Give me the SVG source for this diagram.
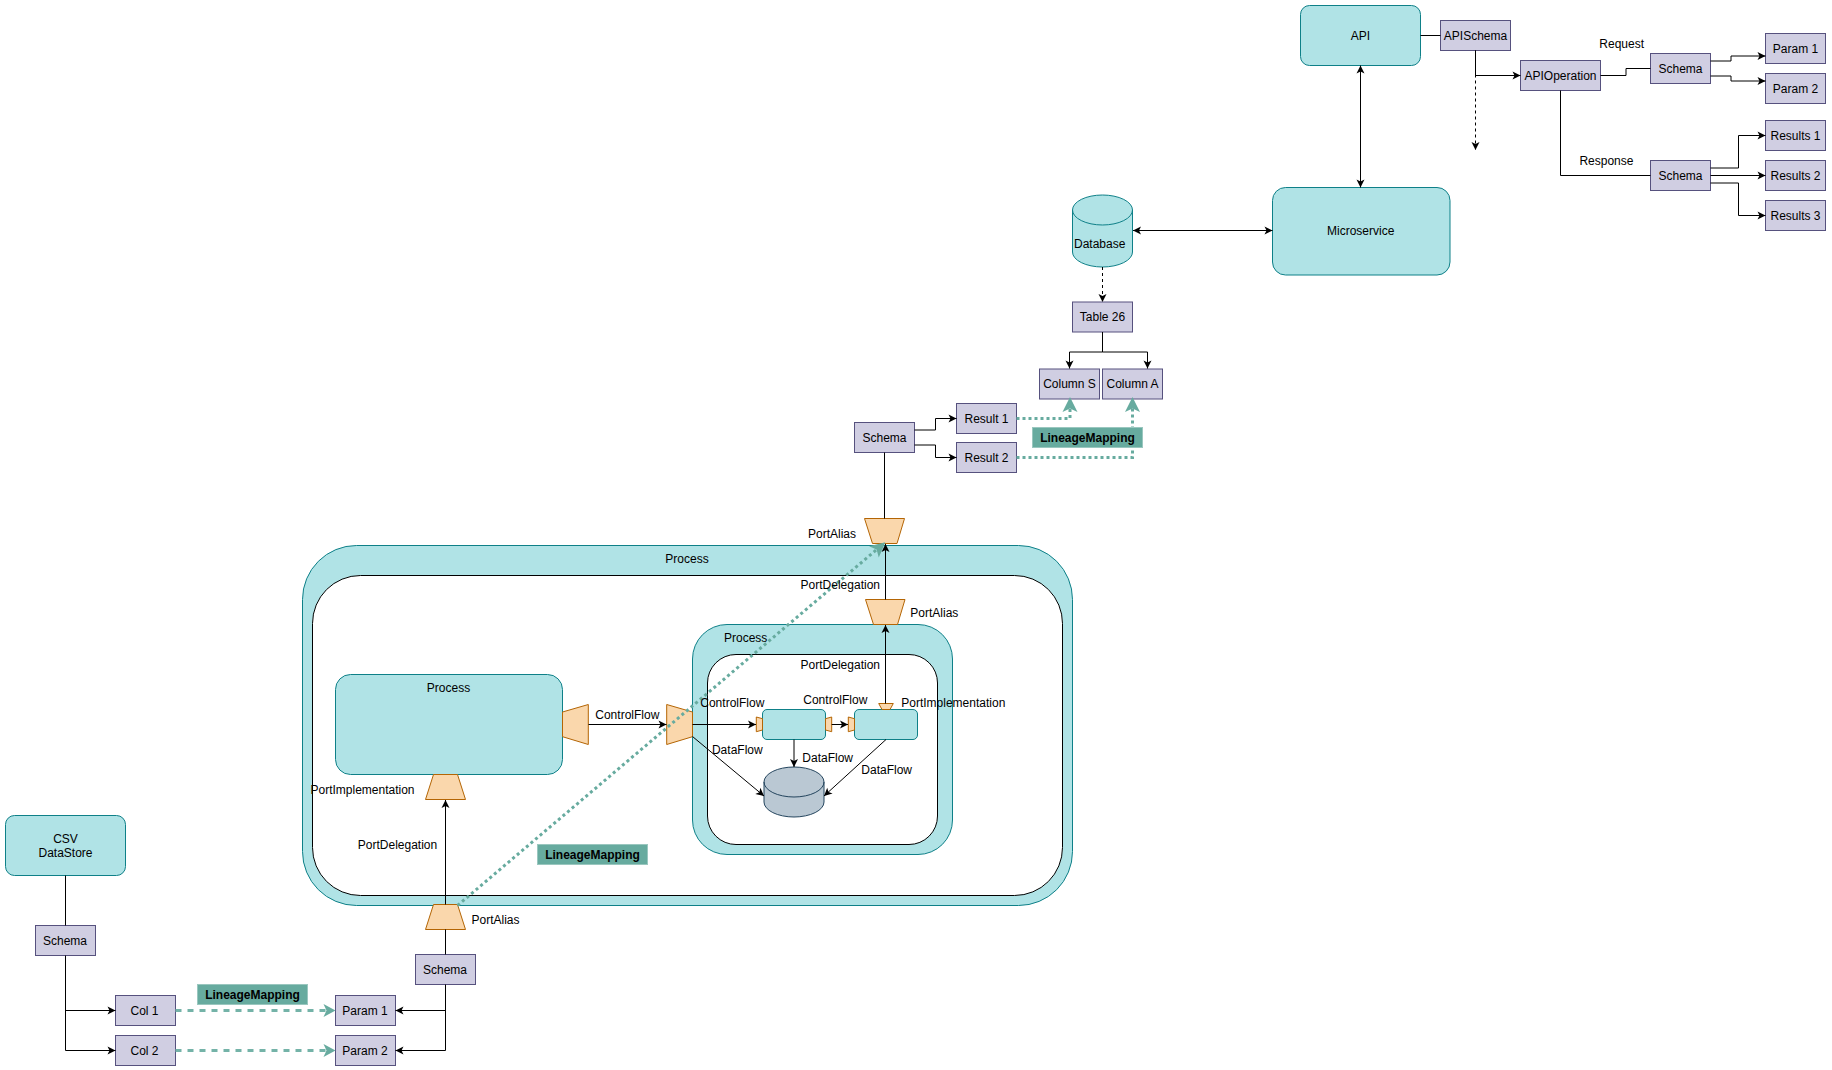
<svg xmlns="http://www.w3.org/2000/svg" width="1832" height="1070" viewBox="0 0 1832 1070">
<style>
text{font-family:"Liberation Sans",Arial,sans-serif;font-size:12px;fill:#000;text-anchor:middle}
.bold{font-weight:bold}
.teal{fill:#b0e3e6;stroke:#0e8088;stroke-width:1}
.box{fill:#d0cee2;stroke:#56517e;stroke-width:1}
.port{fill:#fad7ac;stroke:#b46504;stroke-width:1}
.inner{fill:#fff;stroke:#000;stroke-width:1}
.tag{fill:#67ab9f;stroke:#9ac7bf;stroke-width:1}
.cyl{fill:#bac8d3;stroke:#23445d;stroke-width:1}
.e{fill:none;stroke:#000;stroke-width:1}
.a{marker-end:url(#arrow)}
.b{marker-start:url(#arrowS);marker-end:url(#arrow)}
.d{stroke-dasharray:3 3}
.dot{fill:none;stroke:#67ab9f;stroke-width:3;stroke-dasharray:3 3;marker-end:url(#greenL)}
.dash{fill:none;stroke:#74b3a8;stroke-width:3;stroke-dasharray:6 6;marker-end:url(#green)}
</style>
<defs>
<marker id="arrow" markerUnits="userSpaceOnUse" markerWidth="10" markerHeight="10" refX="8" refY="5" orient="auto" overflow="visible"><path d="M0,1 L8,5 L0,9 L2,5z" fill="#000"/></marker>
<marker id="arrowS" markerUnits="userSpaceOnUse" markerWidth="10" markerHeight="10" refX="0" refY="5" orient="auto" overflow="visible"><path d="M8,1 L0,5 L8,9 L6,5z" fill="#000"/></marker>
<marker id="green" markerUnits="userSpaceOnUse" markerWidth="14" markerHeight="14" refX="6" refY="7" orient="auto" overflow="visible"><path d="M0,0.5 L12,7 L0,13.5 L3,7z" fill="#67ab9f"/></marker>
<marker id="greenL" markerUnits="userSpaceOnUse" markerWidth="16" markerHeight="16" refX="6" refY="8" orient="auto" overflow="visible"><path d="M0,0.5 L15,8 L0,15.5 L3.5,8z" fill="#67ab9f"/></marker>
</defs>

<g id="nodes-top">
<g id="api"><rect class="teal" x="1300.5" y="5.5" width="120" height="60" rx="9"/><text x="1360.5" y="39.5">API</text></g>
<g id="apischema"><rect class="box" x="1440.5" y="20.5" width="70" height="30"/><text x="1475.5" y="39.5">APISchema</text></g>
<g id="apioperation"><rect class="box" x="1520.5" y="60.5" width="80" height="30"/><text x="1560.5" y="79.5">APIOperation</text></g>
<g id="schema-req"><rect class="box" x="1650.5" y="53.5" width="60" height="30"/><text x="1680.5" y="72.5">Schema</text></g>
<g id="schema-res"><rect class="box" x="1650.5" y="160.5" width="60" height="30"/><text x="1680.5" y="180">Schema</text></g>
<g id="api-param1"><rect class="box" x="1765.5" y="33.5" width="60" height="30"/><text x="1795.5" y="52.5">Param 1</text></g>
<g id="api-param2"><rect class="box" x="1765.5" y="73.5" width="60" height="30"/><text x="1795.5" y="92.5">Param 2</text></g>
<g id="results1"><rect class="box" x="1765.5" y="120.5" width="60" height="30"/><text x="1795.5" y="139.5">Results 1</text></g>
<g id="results2"><rect class="box" x="1765.5" y="160.5" width="60" height="30"/><text x="1795.5" y="179.5">Results 2</text></g>
<g id="results3"><rect class="box" x="1765.5" y="200.5" width="60" height="30"/><text x="1795.5" y="219.5">Results 3</text></g>
<g id="microservice"><rect class="teal" x="1272.5" y="187.5" width="177.5" height="87.5" rx="13"/><text x="1360.7" y="235">Microservice</text></g>
<g id="database"><path class="teal" d="M1072.5,210 A30,15 0 0 1 1132.5,210 V252 A30,15 0 0 1 1072.5,252z"/><path class="teal" style="fill:none" d="M1072.5,210 A30,15 0 0 0 1132.5,210"/><text x="1099.7" y="248">Database</text></g>
</g>

<g id="nodes" transform="translate(0,1)">
<g id="table26"><rect class="box" x="1072.5" y="301" width="60" height="30"/><text x="1102.5" y="320">Table 26</text></g>
<g id="columnS"><rect class="box" x="1039.5" y="368" width="60" height="30"/><text x="1069.5" y="387">Column S</text></g>
<g id="columnA"><rect class="box" x="1102.5" y="368" width="60" height="30"/><text x="1132.5" y="387">Column A</text></g>
<g id="schema-mid"><rect class="box" x="854.5" y="421.5" width="60" height="30"/><text x="884.5" y="440.5">Schema</text></g>
<g id="result1"><rect class="box" x="956.5" y="402.5" width="60" height="30"/><text x="986.5" y="421.5">Result 1</text></g>
<g id="result2"><rect class="box" x="956.5" y="441.5" width="60" height="30"/><text x="986.5" y="460.5">Result 2</text></g>

<g id="process-outer"><rect class="teal" x="302.5" y="544.5" width="770" height="360" rx="54"/><rect class="inner" x="312.5" y="574.5" width="750" height="320" rx="48"/><text x="687" y="562">Process</text></g>
<g id="process-left"><rect class="teal" x="335.5" y="673.5" width="227" height="100" rx="15"/><text x="448.5" y="690.5">Process</text></g>
<g id="process-right"><rect class="teal" x="692.5" y="623.5" width="260" height="230" rx="34.5"/><rect class="inner" x="707.5" y="653.5" width="230" height="190" rx="28.5"/><text x="745.7" y="641">Process</text></g>
<g id="inner-a"><rect class="teal" x="762.5" y="708.5" width="63" height="30" rx="4.5"/></g>
<g id="inner-b"><rect class="teal" x="854.5" y="708.5" width="63" height="30" rx="4.5"/></g>
<g id="store"><path class="cyl" d="M764,781 A30,15 0 0 1 824,781 V801 A30,15 0 0 1 764,801z"/><path class="cyl" style="fill:none" d="M764,781 A30,15 0 0 0 824,781"/></g>

<g id="port-top"><path class="port" d="M864.5,517.5 H904.5 L897,542.5 H872.5z"/></g>
<g id="port-upper"><path class="port" d="M865.5,598.5 H905 L897.5,623.5 H873.5z"/></g>
<g id="port-impl-b"><path class="port" d="M878.7,702.5 H893.3 L890,708.5 H882z"/></g>
<g id="port-a-in"><path class="port" d="M756.3,716 L762.5,717.7 V729 L756.3,730.7z"/></g>
<g id="port-a-out"><path class="port" d="M825.5,717.7 L831.7,716 V730.7 L825.5,729z"/></g>
<g id="port-b-in"><path class="port" d="M848.3,716 L854.5,717.7 V729 L848.3,730.7z"/></g>
<g id="port-left-out"><path class="port" d="M562.5,711 L588.3,703.5 V743.5 L562.5,735.7z"/></g>
<g id="port-right-in"><path class="port" d="M666.7,703.5 L692.5,711 V735.7 L666.7,743.5z"/></g>
<g id="port-impl"><path class="port" d="M433.5,773.5 H457.5 L465.5,798.5 H425.5z"/></g>
<g id="port-bottom"><path class="port" d="M433.5,903.5 H457.5 L465.5,928.5 H425.5z"/></g>

<g id="csv"><rect class="teal" x="5.5" y="814.5" width="120" height="60" rx="9"/><text x="65.5" y="842">CSV</text><text x="65.5" y="856">DataStore</text></g>
<g id="schema-csv"><rect class="box" x="35.5" y="924.5" width="60" height="30"/><text x="65" y="943.5">Schema</text></g>
<g id="col1"><rect class="box" x="115.5" y="994.5" width="60" height="30"/><text x="144.5" y="1013.5">Col 1</text></g>
<g id="col2"><rect class="box" x="115.5" y="1034.5" width="60" height="30"/><text x="144.5" y="1053.5">Col 2</text></g>
<g id="param1"><rect class="box" x="335.5" y="994.5" width="60" height="30"/><text x="365" y="1013.5">Param 1</text></g>
<g id="param2"><rect class="box" x="335.5" y="1034.5" width="60" height="30"/><text x="365" y="1053.5">Param 2</text></g>
<g id="schema-proc"><rect class="box" x="415.5" y="953.5" width="60" height="30"/><text x="445" y="972.5">Schema</text></g>
</g>

<g id="connectors">
<g id="connectors-top">
<path class="e" d="M1420.5,35.5 H1440.5"/>
<path class="e a" d="M1475.5,50.5 V75.5 H1520.5"/>
<path class="e a d" d="M1475.5,50.5 V150"/>
<path class="e" d="M1600.5,75.5 H1626 V68.5 H1650.5"/>
<path class="e a" d="M1710.5,61 H1731 V56 H1765.5"/>
<path class="e a" d="M1710.5,76 H1731 V81 H1765.5"/>
<path class="e" d="M1560.5,90.5 V175.5 H1650.5"/>
<path class="e a" d="M1710.5,168 H1738.5 V135.5 H1765.5"/>
<path class="e a" d="M1710.5,175.5 H1765.5"/>
<path class="e a" d="M1710.5,183 H1738.5 V215.5 H1765.5"/>
<path class="e b" d="M1360.5,65.5 V187.5"/>
<path class="e b" d="M1133,230.5 H1272.5"/>
<path class="e a d" d="M1102.5,267 V302"/>
</g>
<g id="connectors-lower" transform="translate(0,1)">
<path class="e a" d="M1102.5,331 V351 H1069.5 V367.5"/>
<path class="e a" d="M1102.5,351 H1147.5 V367.5"/>
<path class="e a" d="M914.5,429 H935.5 V417.5 H956.5"/>
<path class="e a" d="M914.5,444 H935.5 V456.5 H956.5"/>
<path class="e" d="M884.5,451.5 V517.5"/>
<path class="e a" d="M885.5,598.5 V543"/>
<path class="e a" d="M885.5,702.5 V624"/>
<path class="e a" d="M588.5,723.5 H666.5"/>
<path class="e a" d="M692.5,723.5 H756"/>
<path class="e a" d="M831.7,723.5 H848"/>
<path class="e a" d="M794,738.5 V766"/>
<path class="e a" d="M692.5,735.5 L764,795"/>
<path class="e a" d="M886,738.5 L824,795"/>
<path class="e a" d="M445.5,903.5 V799"/>
<path class="e" d="M445.5,928.5 V953.5"/>
<path class="e" d="M65.5,874.5 V924.5"/>
<path class="e a" d="M65.5,954.5 V1049.5 H115.5"/>
<path class="e a" d="M65.5,1009.5 H115.5"/>
<path class="e a" d="M445.5,983.5 V1049.5 H395.5"/>
<path class="e a" d="M445.5,1009.5 H395.5"/>
<path class="dash" d="M175.5,1009.5 H329.5"/>
<path class="dash" d="M175.5,1049.5 H329.5"/>
<path class="dot" d="M1016.5,417.5 H1070 V405"/>
<path class="dot" d="M1016.5,456.5 H1132.5 V405"/>
<path class="dot" d="M457.5,904.5 L878.5,547"/>
</g>
</g>

<g id="labels">
<text x="1621.7" y="48">Request</text>
<text x="1606.4" y="165">Response</text>
<g id="labels-lower" transform="translate(0,1)">
<g id="tag-top"><rect class="tag" x="1032.5" y="426.5" width="110" height="20"/><text class="bold" x="1087.5" y="441">LineageMapping</text></g>
<g id="tag-mid"><rect class="tag" x="537.5" y="843.5" width="110" height="20"/><text class="bold" x="592.5" y="858">LineageMapping</text></g>
<g id="tag-bottom"><rect class="tag" x="197.5" y="983.5" width="110" height="20"/><text class="bold" x="252.5" y="998">LineageMapping</text></g>
<text x="832" y="537">PortAlias</text>
<text x="840.3" y="588">PortDelegation</text>
<text x="934.3" y="616">PortAlias</text>
<text x="840.3" y="668">PortDelegation</text>
<text x="953.3" y="706">PortImplementation</text>
<text x="627.3" y="718">ControlFlow</text>
<text x="732.3" y="706">ControlFlow</text>
<text x="835.3" y="703">ControlFlow</text>
<text x="737.3" y="753">DataFlow</text>
<text x="827.7" y="761">DataFlow</text>
<text x="886.7" y="773">DataFlow</text>
<text x="362.5" y="793">PortImplementation</text>
<text x="397.5" y="848">PortDelegation</text>
<text x="495.5" y="923">PortAlias</text>
</g>
</g>
</svg>
